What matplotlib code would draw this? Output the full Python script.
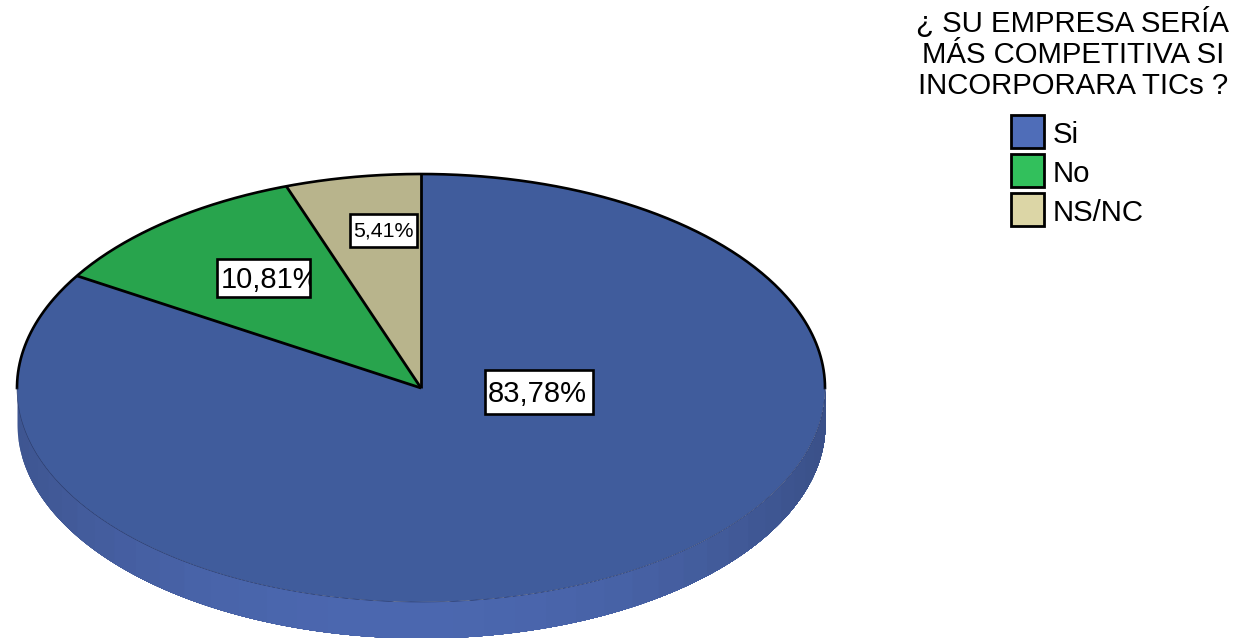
import numpy as np
from matplotlib import pyplot as plt
from matplotlib.patches import Patch, Rectangle
from matplotlib.colors import to_rgb

plt.rcParams["font.family"] = ["Liberation Sans", "DejaVu Sans"]

categories = ["Si", "No", "NS/NC"]
values = [83.78, 10.81, 5.41]
legend_title = "¿ SU EMPRESA SERÍA\nMÁS COMPETITIVA SI\nINCORPORARA TICs ?"

pie_colors = ["#405C9C", "#28A44D", "#B8B48C"]
legend_colors = ["#4F6DB8", "#32C05C", "#DCD6A6"]
side_dark = "#3A5088"
side_light = "#4B67AF"

W, H = 1237, 638
fig = plt.figure(figsize=(W / 100, H / 100), dpi=100)

# Ellipse of the pie top: x 17-825, y 174-602 in pixels
ax = fig.add_axes([17 / W, (H - 602) / H, 808 / W, 428 / H])
depth = 36 / 214

# Side of the disc, bands painted left to right so no seams show:
edges = np.linspace(np.pi, 2 * np.pi, 41)
for a0, a1 in zip(edges[:-1], edges[1:]):
    t = np.linspace(a0, 2 * np.pi, 200)
    pos = (np.cos((a0 + a1) / 2) + 0.06) / 1.06
    k = min(abs(pos), 1) ** 2.2
    col = tuple((1 - k) * np.array(to_rgb(side_light)) + k * np.array(to_rgb(side_dark)))
    ax.fill_between(np.cos(t), np.sin(t) - depth, np.sin(t), color=col, lw=0,
                    clip_on=False, zorder=1)

wedges, _ = ax.pie(values, colors=pie_colors, startangle=90, counterclock=False,
                   radius=1, center=(0, 0), wedgeprops={"linewidth": 0})
for w in wedges:
    w.set_zorder(2)
    w.set_clip_on(False)
ax.set_aspect("auto")
ax.set_xlim(-1, 1)
ax.set_ylim(-1, 1)

# Black outline only on the upper arc and the slice borders:
t = np.linspace(0, np.pi, 300)
ax.plot(np.cos(t), np.sin(t), color="black", lw=1.9, clip_on=False, zorder=3)
t = np.linspace(np.pi, 2 * np.pi, 300)
ax.plot(np.cos(t), np.sin(t), color="#2a3a68", lw=0.4, clip_on=False, zorder=3)
cum = 0
for v in values:
    a = np.pi / 2 - 2 * np.pi * cum / 100
    ax.plot([0, np.cos(a)], [0, np.sin(a)], color="black", lw=2.0, zorder=3,
            solid_capstyle="butt", clip_on=False)
    cum += v

# Overlay in pixel coordinates for the value boxes:
over = fig.add_axes([0, 0, 1, 1])
over.set_xlim(0, W)
over.set_ylim(H, 0)
over.axis("off")
over.patch.set_alpha(0)

boxes = [(484.5, 369.5, 108, 44, 537.5, 394, 21),
         (216.5, 258.5, 93, 38, 270.5, 279.5, 21),
         (349.5, 213.5, 67, 33, 383.5, 231, 15.4)]
for v, (bx, by, bw, bh, tx, ty, fs) in zip(values, boxes):
    box = Rectangle((bx, by), bw, bh, fc="white", ec="black", lw=1.9, zorder=5)
    over.add_patch(box)
    label = f"{v:.2f}%".replace(".", ",")
    txt = over.text(tx, ty, label, fontsize=fs, ha="center", va="center", color="black", zorder=6)
    # the 10,81% label runs past its box in the original and gets cut
    txt.set_clip_path(box)
    txt.set_clip_on(True)

fig.text(1073 / W, 1 - 53.5 / H, legend_title, fontsize=21.2, ha="center", va="center",
         multialignment="center", linespacing=1.15)

handles = [Patch(facecolor=c, edgecolor="black", linewidth=2) for c in legend_colors]
leg = fig.legend(handles, categories, loc="upper left",
                 bbox_to_anchor=(1011 / W, 1 - 115 / H), frameon=False, fontsize=21.2,
                 borderpad=0, borderaxespad=0,
                 handlelength=1.12, handleheight=1.35, handletextpad=0.3,
                 labelspacing=0.2)
for lt in leg.get_texts():
    lt.set_y(-2)

fig.savefig("out.png", dpi=100)
